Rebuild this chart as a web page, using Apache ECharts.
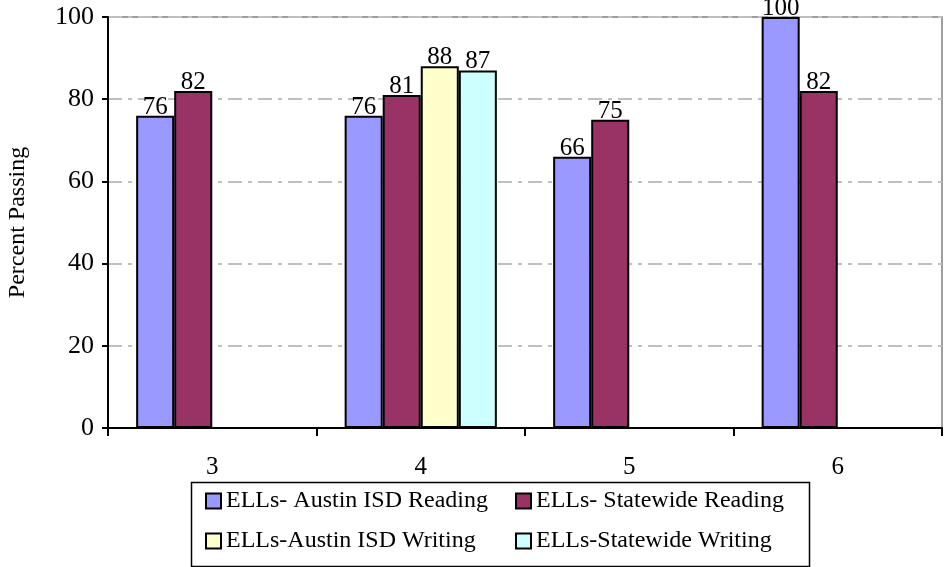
<!DOCTYPE html>
<html>
<head>
<meta charset="utf-8">
<script src="https://cdn.jsdelivr.net/npm/echarts@6/dist/echarts.min.js"></script>
<style>
  html, body { margin: 0; padding: 0; background: #fff; }
  #chart { width: 948px; height: 567px; }
</style>
</head>
<body>
<div id="chart"></div>
<script>
var grades = ['3', '4', '5', '6'];
var austinReading = [76, 76, 66, 100];
var stateReading = [82, 81, 75, 82];
var austinWriting = [null, 88, null, null];
var stateWriting = [null, 87, null, null];
var yTicks = { min: 0, max: 100, interval: 20 };

var chart = echarts.init(document.getElementById('chart'));
var serif = "'Liberation Serif', 'Times New Roman', serif";

function makeSeries(name, data, color) {
    return {
        name: name,
        type: 'bar',
        data: data,
        barGap: '0%',
        barCategoryGap: '27%',
        itemStyle: { color: color, borderColor: '#000', borderWidth: 2 },
        label: {
            show: true,
            position: 'top',
            distance: -4,
            color: '#000',
            fontFamily: serif,
            fontSize: 25
        }
    };
}

var legendText = { color: '#000', fontSize: 24, lineHeight: 24, fontFamily: serif };

var option = {
    animation: false,
    textStyle: { fontFamily: serif },
    grid: {
        left: 108, right: 6, top: 17, bottom: 139,
        outerBoundsMode: 'none',
        containLabel: false,
        show: true, borderColor: '#808080', borderWidth: 1.5
    },
    xAxis: {
        type: 'category',
        data: grades,
        axisLine: { lineStyle: { color: '#000', width: 2 } },
        axisTick: { show: true, length: 8, lineStyle: { color: '#000', width: 2 } },
        axisLabel: { color: '#000', fontSize: 25, margin: 27, fontFamily: serif }
    },
    yAxis: {
        type: 'value',
        min: yTicks.min, max: yTicks.max, interval: yTicks.interval,
        name: 'Percent Passing',
        nameLocation: 'middle',
        nameGap: 78,
        nameTextStyle: { color: '#000', fontSize: 24, fontFamily: serif },
        axisLine: { show: true, lineStyle: { color: '#000', width: 2 } },
        axisTick: { show: true, length: 6, lineStyle: { color: '#000', width: 2 } },
        axisLabel: { color: '#000', fontSize: 26, margin: 14, fontFamily: serif },
        splitLine: { lineStyle: { color: '#c0c0c0', width: 2, type: [14, 6, 4, 6] } }
    },
    legend: [{
        orient: 'vertical',
        left: 205, top: 489,
        padding: 0,
        itemWidth: 15, itemHeight: 15, itemGap: 16,
        icon: 'rect',
        data: ['ELLs- Austin ISD Reading', 'ELLs-Austin ISD Writing'],
        textStyle: legendText
    }, {
        orient: 'vertical',
        left: 515, top: 489,
        padding: 0,
        itemWidth: 15, itemHeight: 15, itemGap: 16,
        icon: 'rect',
        data: ['ELLs- Statewide Reading', 'ELLs-Statewide Writing'],
        textStyle: legendText
    }],
    graphic: [{
        type: 'rect',
        left: 189, top: 480,
        shape: { width: 618, height: 84 },
        style: { fill: 'none', stroke: '#000', lineWidth: 1.5 }
    }],
    series: [
        makeSeries('ELLs- Austin ISD Reading', austinReading, '#9999ff'),
        makeSeries('ELLs- Statewide Reading', stateReading, '#993366'),
        makeSeries('ELLs-Austin ISD Writing', austinWriting, '#ffffcc'),
        makeSeries('ELLs-Statewide Writing', stateWriting, '#ccffff')
    ]
};

chart.setOption(option);
</script>
</body>
</html>
